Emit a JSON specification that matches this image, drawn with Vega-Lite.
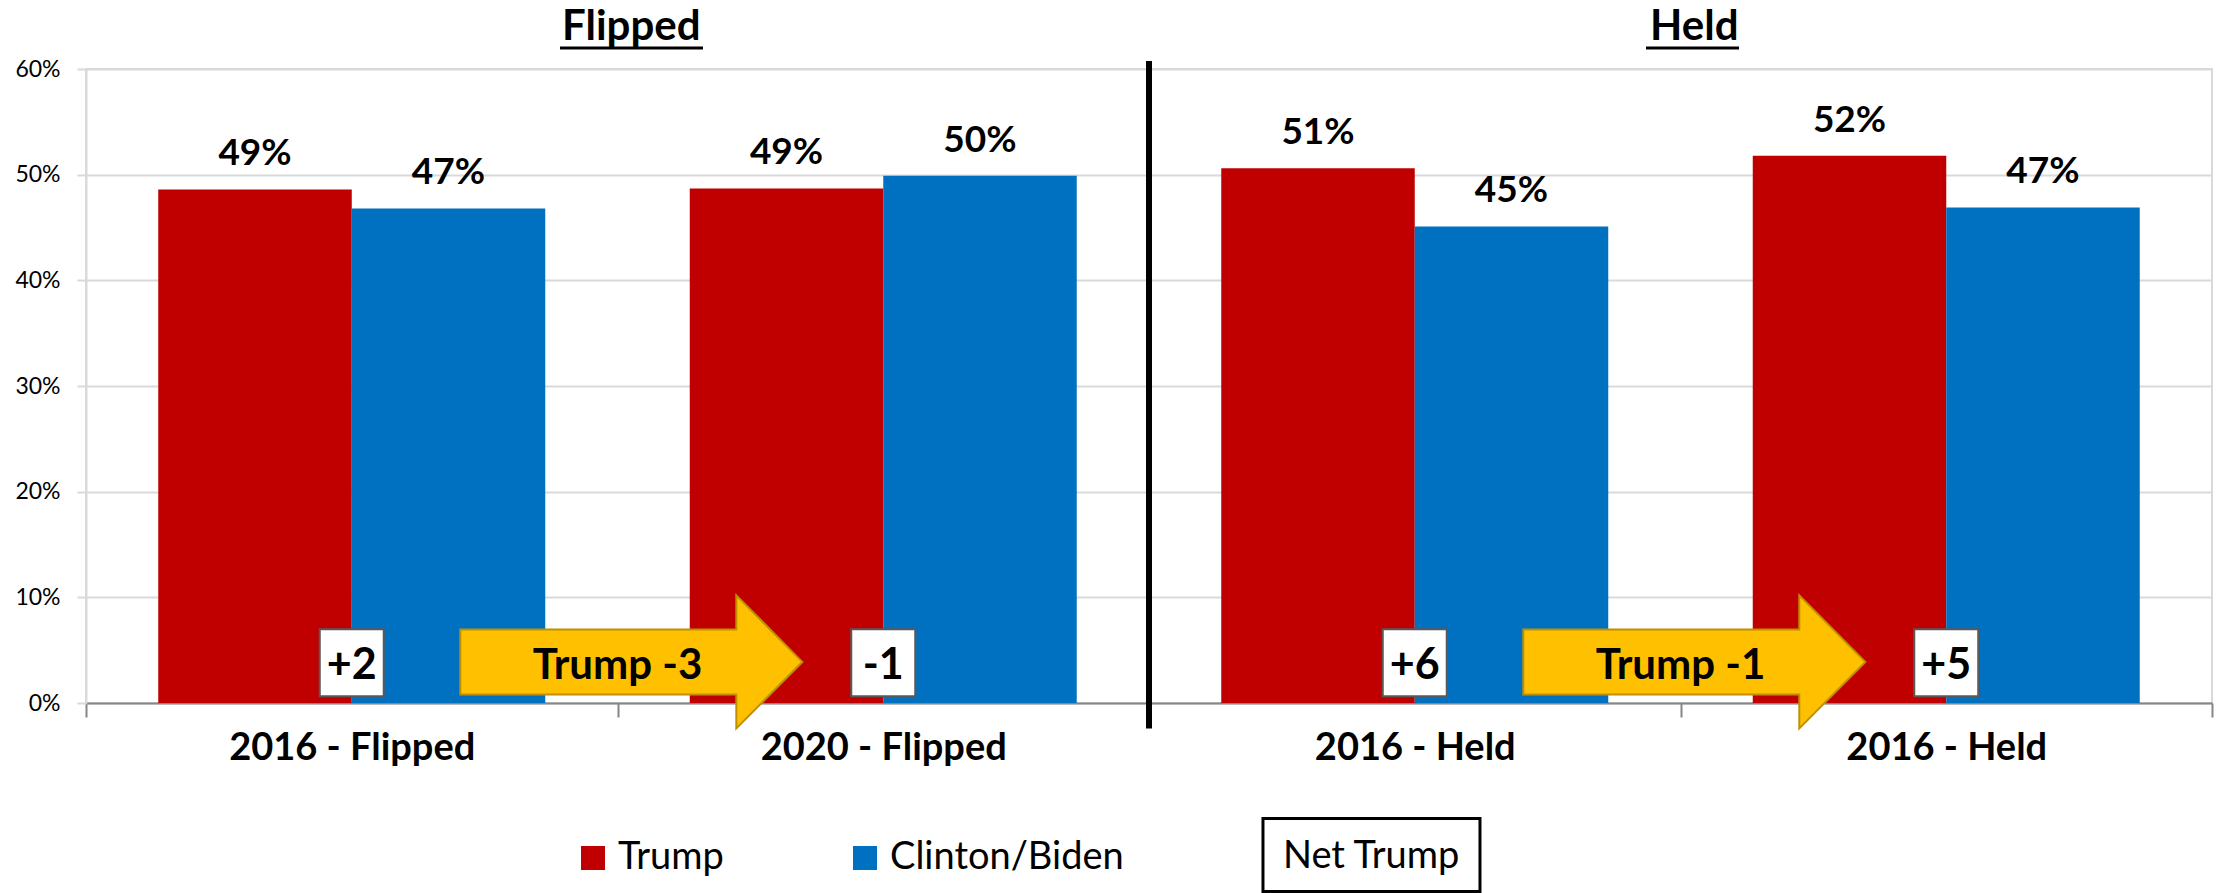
{
  "$schema": "https://vega.github.io/schema/vega-lite/v6.json",
  "autosize": {"type": "none"},
  "width": 2126,
  "height": 634,
  "padding": {"left": 86, "top": 69, "right": 4, "bottom": 190},
  "background": "white",
  "config": {
    "font": "Lato",
    "view": {"stroke": "#D9D9D9", "strokeWidth": 2}
  },
  "datasets": {
    "bars": [
      {"cat": "2016 - Flipped", "cand": "Trump", "pct": 0.486},
      {"cat": "2016 - Flipped", "cand": "Clinton/Biden", "pct": 0.468},
      {"cat": "2020 - Flipped", "cand": "Trump", "pct": 0.487},
      {"cat": "2020 - Flipped", "cand": "Clinton/Biden", "pct": 0.499},
      {"cat": "2016 - Held", "cand": "Trump", "pct": 0.506},
      {"cat": "2016 - Held", "cand": "Clinton/Biden", "pct": 0.451},
      {"cat": "2016 - Held ", "cand": "Trump", "pct": 0.518},
      {"cat": "2016 - Held ", "cand": "Clinton/Biden", "pct": 0.469}
    ],
    "nets": [
      {"cat": "2016 - Flipped", "net": "+2"},
      {"cat": "2020 - Flipped", "net": "-1"},
      {"cat": "2016 - Held", "net": "+6"},
      {"cat": "2016 - Held ", "net": "+5"}
    ],
    "shifts": [
      {"cat": "2020 - Flipped", "label": "Trump -3"},
      {"cat": "2016 - Held ", "label": "Trump -1"}
    ],
    "titles": [
      {"cat": "2020 - Flipped", "title": "Flipped"},
      {"cat": "2016 - Held ", "title": "Held"}
    ],
    "divider": [{"cat": "2016 - Held"}],
    "legendbox": [{"cat": "2016 - Held", "label": "Net Trump"}]
  },
  "layer": [
    {
      "data": {"name": "bars"},
      "mark": {"type": "bar"},
      "encoding": {
        "x": {
          "field": "cat", "type": "nominal",
          "scale": {"domain": ["2016 - Flipped", "2020 - Flipped", "2016 - Held", "2016 - Held "], "paddingInner": 0, "paddingOuter": 0},
          "axis": {
            "title": null,
            "labelAngle": 0,
            "labelFontSize": 38,
            "labelFontWeight": "bold",
            "labelColor": "black",
            "labelPadding": 12,
            "labelLimit": 400,
            "tickBand": "extent",
            "tickSize": 14,
            "tickColor": "#868686",
            "tickWidth": 2,
            "domainColor": "#868686",
            "domainWidth": 2,
            "grid": false
          }
        },
        "xOffset": {
          "field": "cand", "type": "nominal",
          "scale": {"domain": ["Trump", "Clinton/Biden"], "paddingInner": 0, "paddingOuter": 0.3734}
        },
        "y": {
          "field": "pct", "type": "quantitative",
          "scale": {"domain": [0, 0.6], "nice": false},
          "axis": {
            "title": null,
            "values": [0, 0.1, 0.2, 0.3, 0.4, 0.5, 0.6],
            "format": ".0%",
            "labelFontSize": 23,
            "labelColor": "black",
            "labelPadding": 17,
            "tickSize": 9,
            "tickColor": "#D9D9D9",
            "tickWidth": 2,
            "domainColor": "#D9D9D9",
            "domainWidth": 2,
            "grid": true,
            "gridColor": "#D9D9D9",
            "gridWidth": 2
          }
        },
        "color": {
          "field": "cand", "type": "nominal",
          "scale": {"domain": ["Trump", "Clinton/Biden"], "range": ["#C00000", "#0070C0"]},
          "legend": {
            "orient": "none",
            "legendX": 488,
            "legendY": 770,
            "direction": "horizontal",
            "title": null,
            "symbolType": "square",
            "symbolSize": 576,
            "symbolStrokeWidth": 0,
            "symbolOpacity": 1,
            "labelFontSize": 38,
            "labelColor": "black",
            "labelOffset": 6,
            "columnPadding": 122,
            "padding": 0,
            "labelLimit": 400
          }
        }
      }
    },
    {
      "data": {"name": "bars"},
      "mark": {"type": "text", "fontSize": 37, "fontWeight": "bold", "align": "center", "baseline": "alphabetic", "dy": -24, "color": "black"},
      "encoding": {
        "x": {"field": "cat", "type": "nominal", "scale": {"domain": ["2016 - Flipped", "2020 - Flipped", "2016 - Held", "2016 - Held "], "paddingInner": 0, "paddingOuter": 0}},
        "xOffset": {"field": "cand", "type": "nominal", "scale": {"domain": ["Trump", "Clinton/Biden"], "paddingInner": 0, "paddingOuter": 0.3734}},
        "y": {"field": "pct", "type": "quantitative", "scale": {"domain": [0, 0.6], "nice": false}},
        "text": {"field": "pct", "type": "quantitative", "format": ".0%"}
      }
    },
    {
      "data": {"name": "nets"},
      "mark": {"type": "point", "shape": "M-0.955,-1H0.955V1H-0.955Z", "size": 4489, "filled": true, "fill": "white", "stroke": "#595959", "strokeWidth": 2, "opacity": 1},
      "encoding": {
        "x": {"field": "cat", "type": "nominal", "scale": {"domain": ["2016 - Flipped", "2020 - Flipped", "2016 - Held", "2016 - Held "], "paddingInner": 0, "paddingOuter": 0}},
        "y": {"datum": 0.038, "type": "quantitative", "scale": {"domain": [0, 0.6], "nice": false}}
      }
    },
    {
      "data": {"name": "shifts"},
      "mark": {"type": "point", "shape": "M-1,-0.19L0.614,-0.19L0.614,-0.389L1,0L0.614,0.389L0.614,0.19L-1,0.19Z", "size": 116964, "filled": true, "fill": "#FFC000", "stroke": "#BF9000", "strokeWidth": 2, "opacity": 1},
      "encoding": {
        "x": {"field": "cat", "type": "nominal", "bandPosition": 0.026, "scale": {"domain": ["2016 - Flipped", "2020 - Flipped", "2016 - Held", "2016 - Held "], "paddingInner": 0, "paddingOuter": 0}},
        "y": {"datum": 0.0389, "type": "quantitative", "scale": {"domain": [0, 0.6], "nice": false}}
      }
    },
    {
      "data": {"name": "nets"},
      "mark": {"type": "text", "fontSize": 43, "fontWeight": "bold", "align": "center", "baseline": "alphabetic", "color": "black"},
      "encoding": {
        "x": {"field": "cat", "type": "nominal", "scale": {"domain": ["2016 - Flipped", "2020 - Flipped", "2016 - Held", "2016 - Held "], "paddingInner": 0, "paddingOuter": 0}},
        "y": {"datum": 0.0226, "type": "quantitative", "scale": {"domain": [0, 0.6], "nice": false}},
        "text": {"field": "net", "type": "nominal"}
      }
    },
    {
      "data": {"name": "shifts"},
      "mark": {"type": "text", "fontSize": 42, "fontWeight": "bold", "align": "center", "baseline": "alphabetic", "color": "black"},
      "encoding": {
        "x": {"field": "cat", "type": "nominal", "bandPosition": 0, "scale": {"domain": ["2016 - Flipped", "2020 - Flipped", "2016 - Held", "2016 - Held "], "paddingInner": 0, "paddingOuter": 0}},
        "y": {"datum": 0.0228, "type": "quantitative", "scale": {"domain": [0, 0.6], "nice": false}},
        "text": {"field": "label", "type": "nominal"}
      }
    },
    {
      "data": {"name": "divider"},
      "mark": {"type": "rule", "color": "black", "strokeWidth": 6},
      "encoding": {
        "x": {"field": "cat", "type": "nominal", "bandPosition": 0, "scale": {"domain": ["2016 - Flipped", "2020 - Flipped", "2016 - Held", "2016 - Held "], "paddingInner": 0, "paddingOuter": 0}},
        "y": {"datum": 0.6076, "type": "quantitative", "scale": {"domain": [0, 0.6], "nice": false}},
        "y2": {"datum": -0.0241}
      }
    },
    {
      "data": {"name": "titles"},
      "mark": {"type": "text", "fontSize": 42, "fontWeight": "bold", "align": "center", "baseline": "alphabetic", "color": "black"},
      "encoding": {
        "x": {"field": "cat", "type": "nominal", "bandPosition": 0.026, "scale": {"domain": ["2016 - Flipped", "2020 - Flipped", "2016 - Held", "2016 - Held "], "paddingInner": 0, "paddingOuter": 0}},
        "y": {"datum": 0.6275, "type": "quantitative", "scale": {"domain": [0, 0.6], "nice": false}},
        "text": {"field": "title", "type": "nominal"}
      }
    },
    {
      "data": {"name": "titles"},
      "transform": [{"filter": "datum.title == 'Flipped'"}],
      "mark": {"type": "tick", "orient": "horizontal", "size": 143, "thickness": 3, "color": "black", "opacity": 1, "xOffset": -251.75},
      "encoding": {
        "x": {"field": "cat", "type": "nominal", "scale": {"domain": ["2016 - Flipped", "2020 - Flipped", "2016 - Held", "2016 - Held "], "paddingInner": 0, "paddingOuter": 0}},
        "y": {"datum": 0.6199, "type": "quantitative", "scale": {"domain": [0, 0.6], "nice": false}}
      }
    },
    {
      "data": {"name": "titles"},
      "transform": [{"filter": "datum.title == 'Held'"}],
      "mark": {"type": "tick", "orient": "horizontal", "size": 93, "thickness": 3, "color": "black", "opacity": 1, "xOffset": -253.75},
      "encoding": {
        "x": {"field": "cat", "type": "nominal", "scale": {"domain": ["2016 - Flipped", "2020 - Flipped", "2016 - Held", "2016 - Held "], "paddingInner": 0, "paddingOuter": 0}},
        "y": {"datum": 0.6199, "type": "quantitative", "scale": {"domain": [0, 0.6], "nice": false}}
      }
    },
    {
      "data": {"name": "legendbox"},
      "mark": {"type": "point", "shape": "M-1,-0.336H1V0.336H-1Z", "size": 47089, "filled": true, "fill": "white", "stroke": "black", "strokeWidth": 3, "opacity": 1},
      "encoding": {
        "x": {"field": "cat", "type": "nominal", "bandPosition": 0.4186, "scale": {"domain": ["2016 - Flipped", "2020 - Flipped", "2016 - Held", "2016 - Held "], "paddingInner": 0, "paddingOuter": 0}},
        "y": {"datum": -0.1438, "type": "quantitative", "scale": {"domain": [0, 0.6], "nice": false}}
      }
    },
    {
      "data": {"name": "legendbox"},
      "mark": {"type": "text", "fontSize": 38, "align": "center", "baseline": "alphabetic", "color": "black"},
      "encoding": {
        "x": {"field": "cat", "type": "nominal", "bandPosition": 0.418, "scale": {"domain": ["2016 - Flipped", "2020 - Flipped", "2016 - Held", "2016 - Held "], "paddingInner": 0, "paddingOuter": 0}},
        "y": {"datum": -0.1557, "type": "quantitative", "scale": {"domain": [0, 0.6], "nice": false}},
        "text": {"field": "label", "type": "nominal"}
      }
    }
  ]
}
